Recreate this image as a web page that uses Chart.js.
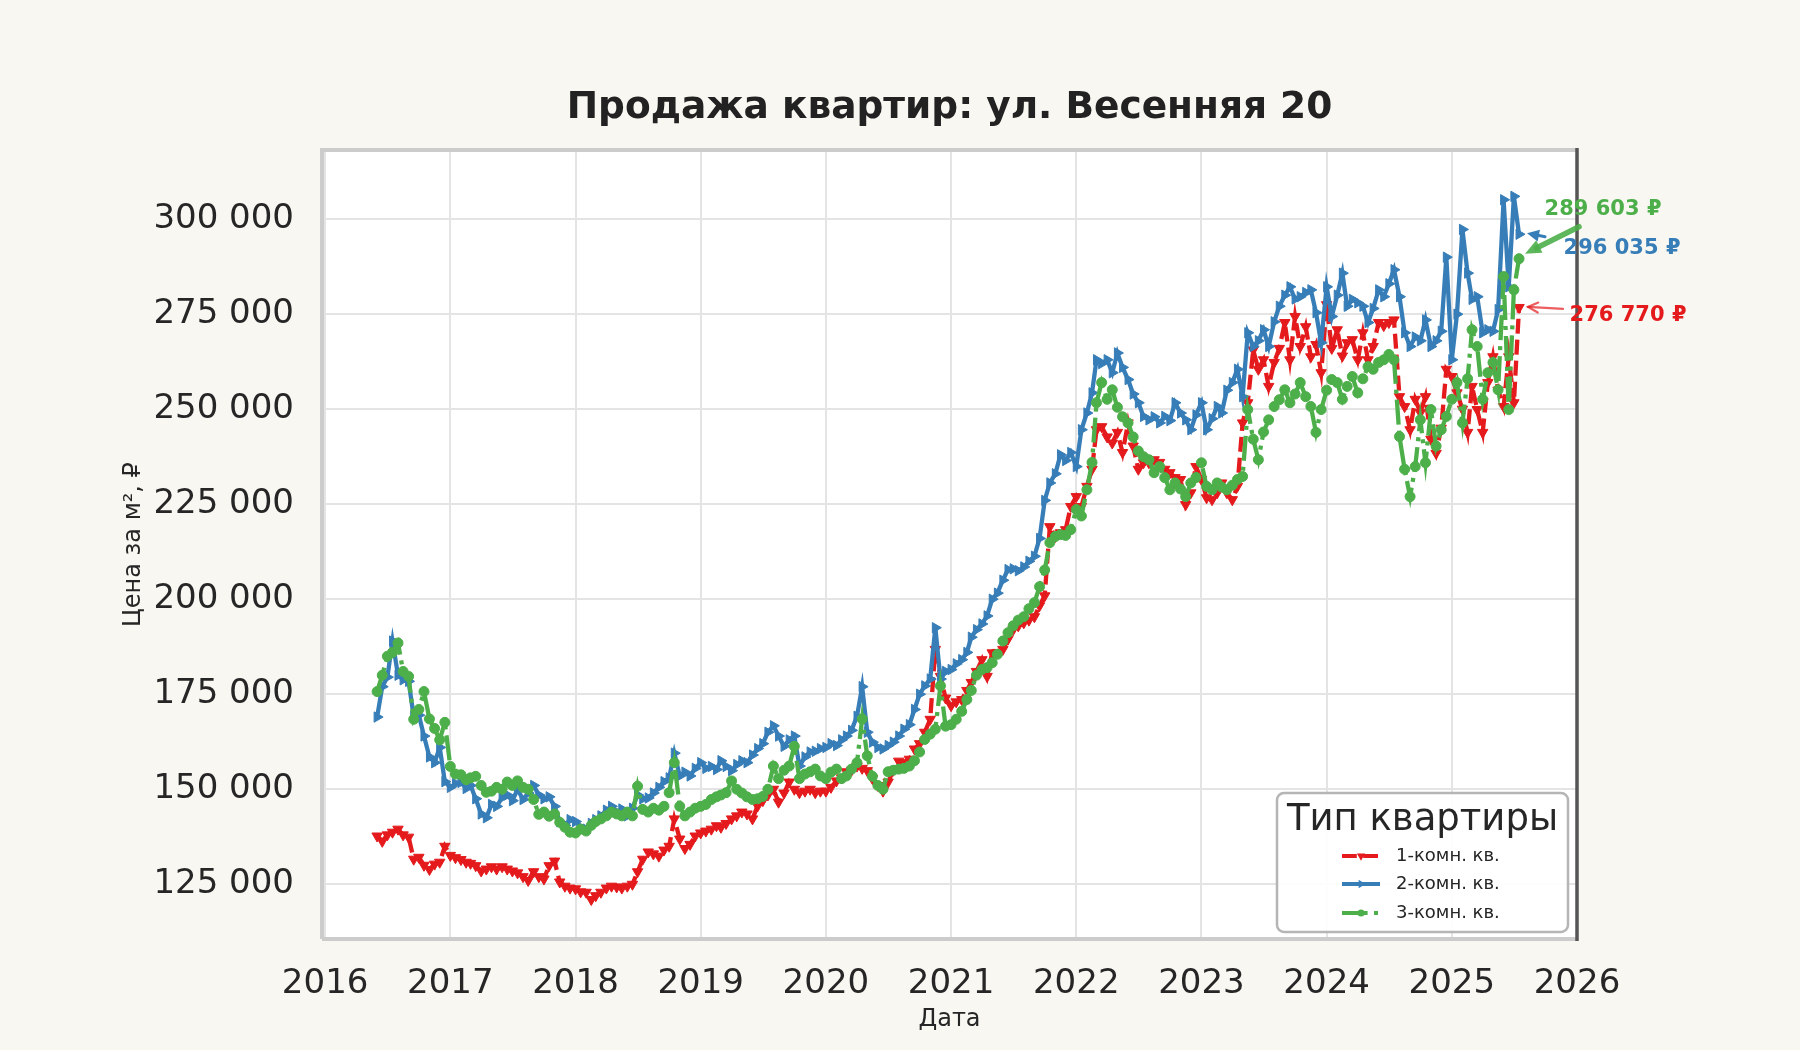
<!DOCTYPE html>
<html>
<head>
<meta charset="utf-8">
<script src="https://cdn.jsdelivr.net/npm/chart.js@4.4.1/dist/chart.umd.min.js"></script>
<style>
html,body{margin:0;padding:0;background:#f8f7f2;}
#wrap{width:1800px;height:1050px;}
canvas{display:block;}
</style>
</head>
<body>
<div id="wrap"><canvas id="c" width="1800" height="1050"></canvas></div>
<script>
// ---------- DATA ----------
const dates = [
"2016-06-01","2016-06-16","2016-07-01","2016-07-16","2016-08-01","2016-08-16","2016-09-01","2016-09-16","2016-10-01","2016-10-16","2016-11-01","2016-11-16","2016-12-01","2016-12-16",
"2017-01-01","2017-01-16","2017-02-01","2017-02-16","2017-03-01","2017-03-16","2017-04-01","2017-04-16","2017-05-01","2017-05-16","2017-06-01","2017-06-16","2017-07-01","2017-07-16","2017-08-01","2017-08-16","2017-09-01","2017-09-16","2017-10-01","2017-10-16","2017-11-01","2017-11-16","2017-12-01","2017-12-16",
"2018-01-01","2018-01-16","2018-02-01","2018-02-16","2018-03-01","2018-03-16","2018-04-01","2018-04-16","2018-05-01","2018-05-16","2018-06-01","2018-06-16","2018-07-01","2018-07-16","2018-08-01","2018-08-16","2018-09-01","2018-09-16","2018-10-01","2018-10-16","2018-11-01","2018-11-16","2018-12-01","2018-12-16",
"2019-01-01","2019-01-16","2019-02-01","2019-02-16","2019-03-01","2019-03-16","2019-04-01","2019-04-16","2019-05-01","2019-05-16","2019-06-01","2019-06-16","2019-07-01","2019-07-16","2019-08-01","2019-08-16","2019-09-01","2019-09-16","2019-10-01","2019-10-16","2019-11-01","2019-11-16","2019-12-01","2019-12-16",
"2020-01-01","2020-01-16","2020-02-01","2020-02-16","2020-03-01","2020-03-16","2020-04-01","2020-04-16","2020-05-01","2020-05-16","2020-06-01","2020-06-16","2020-07-01","2020-07-16","2020-08-01","2020-08-16","2020-09-01","2020-09-16","2020-10-01","2020-10-16","2020-11-01","2020-11-16","2020-12-01","2020-12-16",
"2021-01-01","2021-01-16","2021-02-01","2021-02-16","2021-03-01","2021-03-16","2021-04-01","2021-04-16","2021-05-01","2021-05-16","2021-06-01","2021-06-16","2021-07-01","2021-07-16","2021-08-01","2021-08-16","2021-09-01","2021-09-16","2021-10-01","2021-10-16","2021-11-01","2021-11-16","2021-12-01","2021-12-16",
"2022-01-01","2022-01-16","2022-02-01","2022-02-16","2022-03-01","2022-03-16","2022-04-01","2022-04-16","2022-05-01","2022-05-16","2022-06-01","2022-06-16","2022-07-01","2022-07-16","2022-08-01","2022-08-16","2022-09-01","2022-09-16","2022-10-01","2022-10-16","2022-11-01","2022-11-16","2022-12-01","2022-12-16",
"2023-01-01","2023-01-16","2023-02-01","2023-02-16","2023-03-01","2023-03-16","2023-04-01","2023-04-16","2023-05-01","2023-05-16","2023-06-01","2023-06-16","2023-07-01","2023-07-16","2023-08-01","2023-08-16","2023-09-01","2023-09-16","2023-10-01","2023-10-16","2023-11-01","2023-11-16","2023-12-01","2023-12-16",
"2024-01-01","2024-01-16","2024-02-01","2024-02-16","2024-03-01","2024-03-16","2024-04-01","2024-04-16","2024-05-01","2024-05-16","2024-06-01","2024-06-16","2024-07-01","2024-07-16","2024-08-01","2024-08-16","2024-09-01","2024-09-16","2024-10-01","2024-10-16","2024-11-01","2024-11-16","2024-12-01","2024-12-16",
"2025-01-01","2025-01-16","2025-02-01","2025-02-16","2025-03-01","2025-03-16","2025-04-01","2025-04-16","2025-05-01","2025-05-16","2025-06-01","2025-06-16","2025-07-01","2025-07-16"
];

// price per m², thousand rubles
const price1 = [ // 1-комн. кв.
137.7,136.3,138.0,138.7,139.5,138.0,137.4,131.6,132.1,130.0,128.9,130.3,130.8,135.0,
132.6,132.0,131.5,130.8,130.5,129.9,128.5,129.0,129.6,129.0,129.6,129.0,128.5,128.0,127.0,126.0,128.3,127.0,126.4,129.9,131.1,125.6,124.5,124.0,
123.8,123.0,122.9,121.0,122.0,122.9,124.0,124.5,124.3,124.0,124.5,125.0,128.3,131.6,133.5,133.0,132.4,134.0,135.0,142.2,136.9,134.4,135.5,137.7,
138.5,139.0,139.5,140.4,140.0,141.0,142.2,143.0,144.0,143.5,142.2,145.6,147.0,148.5,150.0,146.6,149.0,151.9,150.0,149.1,149.5,150.0,149.1,149.5,
149.5,150.5,152.2,153.0,154.6,155.0,156.1,155.5,154.9,152.8,151.0,149.5,151.9,155.0,157.4,157.0,157.9,160.6,162.0,165.0,168.4,186.8,179.7,174.0,
172.0,173.0,173.6,176.0,178.1,181.0,184.1,179.7,185.9,186.0,186.8,189.5,192.0,193.0,193.8,194.5,195.4,198.3,200.9,219.1,216.5,217.5,218.3,224.4,
227.0,224.4,229.7,234.2,244.6,245.4,242.7,241.1,243.9,238.6,246.4,240.3,234.2,235.9,235.9,236.7,236.0,234.2,233.3,232.0,231.5,224.9,228.0,234.9,
231.5,226.7,226.2,228.0,230.6,228.0,226.2,229.7,246.4,251.7,265.6,260.5,263.0,256.0,262.3,266.0,272.8,263.0,274.4,266.5,271.7,263.8,267.0,259.6,
277.5,266.0,270.9,264.0,267.5,268.3,263.0,270.1,263.0,266.5,272.8,272.0,272.8,273.5,253.3,250.7,244.6,252.6,249.1,253.3,242.1,238.4,245.0,260.5,
258.6,254.3,250.0,243.9,256.0,249.9,243.9,257.0,263.8,255.0,250.7,263.8,251.7,276.77
];
const price2 = [ // 2-комн. кв.
169.0,177.0,179.5,189.0,180.0,178.8,178.4,169.2,169.5,164.0,158.5,157.0,161.0,152.0,
150.5,151.5,151.8,150.2,151.0,147.5,143.5,142.5,146.0,145.5,147.8,148.5,147.0,150.0,147.3,149.0,151.0,148.5,147.5,148.0,145.5,141.5,140.5,142.0,
141.5,140.0,139.5,141.0,142.0,143.0,144.5,145.5,144.0,144.8,143.0,145.0,148.5,147.5,147.7,149.0,150.5,152.0,153.0,159.5,153.5,154.5,153.5,155.5,
157.0,155.5,156.0,155.2,157.5,156.0,154.9,156.5,157.5,157.0,159.0,160.7,162.0,165.0,166.7,164.0,161.3,163.0,164.0,156.1,158.5,159.8,160.0,160.7,
161.0,162.0,161.5,163.0,164.0,165.5,169.2,177.0,165.0,162.4,161.0,160.6,161.5,162.4,164.0,165.8,167.0,171.0,175.0,177.2,179.0,192.5,179.0,181.0,
181.5,183.0,184.1,186.0,190.0,192.0,193.5,195.6,200.0,201.6,205.0,207.8,208.0,207.5,208.5,210.0,211.3,216.0,226.0,230.6,233.0,238.0,236.5,238.6,
234.9,244.6,249.0,254.3,263.0,262.0,263.0,259.6,264.8,261.0,257.8,254.0,251.7,248.1,247.2,248.0,246.4,248.1,247.0,251.7,249.0,247.2,244.6,248.5,
251.7,244.6,247.5,250.7,249.0,255.0,257.0,260.5,253.3,270.1,266.5,268.0,270.9,266.5,273.0,277.1,280.0,282.2,279.0,279.6,280.7,281.4,275.4,267.5,
282.2,274.4,280.0,285.8,277.1,278.9,278.0,277.1,272.8,276.5,281.4,279.6,283.0,286.7,279.6,270.1,266.5,269.0,268.0,273.5,266.5,268.0,270.5,290.0,
263.0,275.0,297.3,285.8,278.9,279.6,270.1,270.9,270.5,276.2,305.1,282.2,306.0,296.035
];
const price3 = [ // 3-комн. кв.
175.7,180.0,185.0,186.0,188.5,181.0,179.7,168.4,171.0,175.7,168.5,166.0,163.0,167.6,
156.0,154.0,153.8,152.5,153.0,153.4,151.0,149.2,149.5,150.5,150.0,151.9,151.0,152.2,150.5,150.0,147.3,143.4,144.0,142.9,143.5,141.3,140.0,138.7,
138.5,139.5,139.0,140.5,141.5,142.2,143.0,144.0,143.5,143.0,144.0,143.0,150.8,144.7,144.0,145.0,144.5,145.5,149.1,157.0,145.5,143.0,144.0,145.0,
145.5,146.0,147.3,148.0,148.5,149.1,152.2,150.0,149.0,148.0,147.3,147.5,148.1,150.0,156.1,152.8,155.0,156.1,161.3,152.8,154.0,154.6,155.3,153.5,
152.8,154.5,155.3,152.8,153.5,155.3,157.0,168.5,158.8,153.4,151.0,150.0,154.6,155.0,155.3,155.5,156.1,157.5,159.8,163.1,164.5,165.8,177.2,166.6,
167.0,168.4,170.5,173.6,176.0,180.0,181.5,182.0,183.3,185.5,189.0,191.2,193.0,194.5,195.4,197.5,199.1,203.3,207.7,214.9,216.5,217.0,216.8,218.3,
223.6,221.9,228.8,236.0,251.7,257.0,252.6,255.1,250.5,248.0,246.4,242.7,239.0,237.5,236.7,233.3,234.9,232.0,228.8,230.6,229.0,227.0,230.6,232.0,
235.9,229.7,228.8,230.6,229.5,228.8,230.0,231.5,232.3,249.9,242.1,236.7,244.0,247.2,250.7,252.5,255.1,251.7,254.0,257.0,253.3,250.7,243.9,249.9,
255.0,257.8,257.0,252.6,256.0,258.6,254.3,258.0,261.2,260.5,262.3,263.0,264.4,263.0,242.8,234.2,227.0,234.9,247.2,235.9,249.9,240.3,244.6,248.1,
252.6,257.0,246.4,258.0,270.9,266.5,252.6,259.6,262.3,255.1,284.9,249.9,281.4,289.603
];

const seriesNames = ["1-комн. кв.", "2-комн. кв.", "3-комн. кв."];
const xTickYears = [2016,2017,2018,2019,2020,2021,2022,2023,2024,2025,2026];
const yTickValues = [125000,150000,175000,200000,225000,250000,275000,300000];
const titleText = "Продажа квартир: ул. Весенняя 20";
const xTitle = "Дата";
const yTitle = "Цена за м², ₽";
const legendTitle = "Тип квартиры";

// ---------- BUILD ----------
const FONT = '"DejaVu Sans", sans-serif';
const RED = '#e41a1c', BLUE = '#377eb8', GREEN = '#4daf4a';
function toYear(s){
  const [y,m,d] = s.split('-').map(Number);
  const t0 = Date.UTC(y,0,1), t1 = Date.UTC(y+1,0,1);
  return y + (Date.UTC(y,m-1,d)-t0)/(t1-t0);
}
const xs = dates.map(toYear);
const mk = arr => arr.map((v,i)=>({x:xs[i], y:Math.round(v*1000)}));
const fmt = v => String(Math.round(v)).replace(/\B(?=(\d{3})+(?!\d))/g,' ');

const styles = [
  {color:RED, dash:[15,6], point:'triangle', rot:180, r:6},
  {color:BLUE, dash:[], point:'triangle', rot:90, r:6},
  {color:GREEN, dash:[25,6,4,6], point:'circle', rot:0, r:5}
];
const seriesData = [price1, price2, price3];

const datasets = seriesData.map((arr,i)=>({
  label: seriesNames[i],
  data: mk(arr),
  borderColor: styles[i].color,
  backgroundColor: styles[i].color,
  borderWidth: 4.3,
  borderDash: styles[i].dash,
  pointStyle: styles[i].point,
  pointRotation: styles[i].rot,
  pointRadius: styles[i].r,
  pointBorderWidth: 1,
  pointBackgroundColor: styles[i].color,
  pointBorderColor: styles[i].color,
  tension: 0,
  fill: false,
  order: 2 - i
}));

function drawMarker(ctx, style, x, y, r){
  ctx.save();
  ctx.fillStyle = style.color;
  ctx.beginPath();
  if (style.point === 'circle') {
    ctx.arc(x, y, r, 0, Math.PI*2);
  } else {
    let rad = style.rot * Math.PI/180;
    for (let k=0;k<3;k++){
      const px = x + Math.sin(rad)*r, py = y - Math.cos(rad)*r;
      if (k===0) ctx.moveTo(px,py); else ctx.lineTo(px,py);
      rad += 2*Math.PI/3;
    }
    ctx.closePath();
  }
  ctx.fill();
  ctx.restore();
}

function arrow(ctx, x1,y1,x2,y2,color,lw,head,hw,filled){
  const a = Math.atan2(y2-y1, x2-x1);
  const c = Math.cos(a), s = Math.sin(a);
  ctx.save();
  ctx.strokeStyle = color; ctx.fillStyle = color; ctx.lineWidth = lw; ctx.lineCap='round';
  ctx.beginPath();
  ctx.moveTo(x1,y1);
  ctx.lineTo(filled ? x2 - c*head*0.8 : x2, filled ? y2 - s*head*0.8 : y2);
  ctx.stroke();
  const bx = x2 - c*head, by = y2 - s*head;
  ctx.beginPath();
  ctx.moveTo(bx + s*hw, by - c*hw);
  ctx.lineTo(x2, y2);
  ctx.lineTo(bx - s*hw, by + c*hw);
  if (filled) { ctx.closePath(); ctx.fill(); } else { ctx.stroke(); }
  ctx.restore();
}

const decor = {
  id:'decor',
  beforeDraw(chart){
    const {ctx, chartArea:a} = chart;
    ctx.save();
    ctx.fillStyle = '#f8f7f2';
    ctx.fillRect(0,0,chart.width,chart.height);
    ctx.fillStyle = '#ffffff';
    ctx.fillRect(a.left, a.top, a.right-a.left, a.bottom-a.top);
    ctx.restore();
  },
  afterDatasetsDraw(chart){
    const {ctx, chartArea:a, scales} = chart;
    ctx.save();
    // spines
    ctx.lineWidth = 4;
    ctx.strokeStyle = '#cccccc';
    ctx.beginPath();
    ctx.moveTo(a.left, a.bottom); ctx.lineTo(a.left, a.top); ctx.lineTo(a.right, a.top);
    ctx.moveTo(a.left, a.bottom); ctx.lineTo(a.right, a.bottom);
    ctx.stroke();
    ctx.strokeStyle = '#555555';
    ctx.lineWidth = 3.5;
    ctx.beginPath(); ctx.moveTo(a.right, a.top-2); ctx.lineTo(a.right, a.bottom+2); ctx.stroke();

    // annotations of last values
    const last = seriesData.map((arr,i)=>({
      x: scales.x.getPixelForValue(xs[arr.length-1]),
      y: scales.y.getPixelForValue(arr[arr.length-1]*1000),
      v: arr[arr.length-1]*1000
    }));
    // green (3-комн.)
    let p = last[2];
    arrow(ctx, p.x+60, p.y-32, p.x+6, p.y-5, 'rgba(77,175,74,0.9)', 5.5, 16, 7, true);
    // blue (2-комн.)
    p = last[1];
    arrow(ctx, p.x+26, p.y+2.5, p.x+8, p.y-1, BLUE, 3, 12, 6, true);
    // red (1-комн.)
    p = last[0];
    arrow(ctx, p.x+44, p.y+1.5, p.x+9, p.y-0.5, 'rgba(228,26,28,0.7)', 2.2, 10, 5, false);

    ctx.font = 'bold 21px ' + FONT;
    ctx.textAlign = 'center';
    ctx.textBaseline = 'middle';
    const offs = [[109,8],[103,14],[84,-49]];
    [0,1,2].forEach(i=>{
      ctx.fillStyle = styles[i].color;
      ctx.fillText(fmt(last[i].v) + ' ₽', last[i].x + offs[i][0], last[i].y + offs[i][1]);
    });

    // legend
    const L = {x:1277, y:793, w:291, h:139, r:7};
    ctx.beginPath();
    ctx.moveTo(L.x+L.r, L.y);
    ctx.arcTo(L.x+L.w, L.y, L.x+L.w, L.y+L.h, L.r);
    ctx.arcTo(L.x+L.w, L.y+L.h, L.x, L.y+L.h, L.r);
    ctx.arcTo(L.x, L.y+L.h, L.x, L.y, L.r);
    ctx.arcTo(L.x, L.y, L.x+L.w, L.y, L.r);
    ctx.closePath();
    ctx.fillStyle = 'rgba(255,255,255,0.9)';
    ctx.fill();
    ctx.lineWidth = 2.5;
    ctx.strokeStyle = '#b5b5b5';
    ctx.stroke();

    ctx.fillStyle = '#262626';
    ctx.font = '37px ' + FONT;
    ctx.textAlign = 'center';
    ctx.textBaseline = 'alphabetic';
    ctx.fillText(legendTitle, L.x + L.w/2, 830);

    const rows = [856, 884, 913];
    ctx.font = '18px ' + FONT;
    ctx.textAlign = 'left';
    ctx.textBaseline = 'middle';
    rows.forEach((ry,i)=>{
      ctx.save();
      ctx.strokeStyle = styles[i].color;
      ctx.lineWidth = 4;
      ctx.setLineDash(i===0 ? [14.8,6.4] : (i===2 ? [25.6,6.4,4,6.4] : []));
      ctx.beginPath(); ctx.moveTo(1342, ry); ctx.lineTo(1380, ry); ctx.stroke();
      ctx.restore();
      drawMarker(ctx, styles[i], 1361, ry, i===2 ? 3.6 : 4.8);
      ctx.fillStyle = '#262626';
      ctx.fillText(seriesNames[i], 1396, ry);
    });

    // titles
    ctx.fillStyle = '#222222';
    ctx.font = 'bold 37.5px ' + FONT;
    ctx.textAlign = 'center';
    ctx.textBaseline = 'alphabetic';
    ctx.fillText(titleText, (a.left+a.right)/2, 118);

    ctx.fillStyle = '#262626';
    ctx.font = '24px ' + FONT;
    ctx.fillText(xTitle, (a.left+a.right)/2, 1026);

    ctx.save();
    ctx.translate(140, (a.top+a.bottom)/2);
    ctx.rotate(-Math.PI/2);
    ctx.fillText(yTitle, 0, 0);
    ctx.restore();

    ctx.restore();
  }
};

new Chart(document.getElementById('c'), {
  type: 'line',
  data: { datasets },
  options: {
    responsive: false,
    animation: false,
    devicePixelRatio: 1,
    events: [],
    layout: { padding: { top: 150, right: 223, bottom: 0, left: 0 } },
    plugins: { legend: { display: false }, title: { display: false }, tooltip: { enabled: false } },
    scales: {
      x: {
        type: 'linear', min: 2015.975, max: 2026.0,
        afterBuildTicks: s => { s.ticks = xTickYears.map(v => ({ value: v })); },
        afterFit: s => { s.height = 111; },
        grid: { color: '#e4e4e4', lineWidth: 2, drawTicks: false },
        border: { display: false },
        ticks: { font: { family: FONT, size: 34 }, color: '#262626', padding: 25, maxRotation: 0, autoSkip: false,
                 callback: v => String(v) }
      },
      y: {
        type: 'linear', min: 110600, max: 318200,
        afterBuildTicks: s => { s.ticks = yTickValues.map(v => ({ value: v })); },
        afterFit: s => { s.width = 322; },
        grid: { color: '#e4e4e4', lineWidth: 2, drawTicks: false },
        border: { display: false },
        ticks: { font: { family: FONT, size: 34 }, color: '#262626', padding: 28, autoSkip: false,
                 callback: v => fmt(v) }
      }
    }
  },
  plugins: [decor]
});
</script>
</body>
</html>
